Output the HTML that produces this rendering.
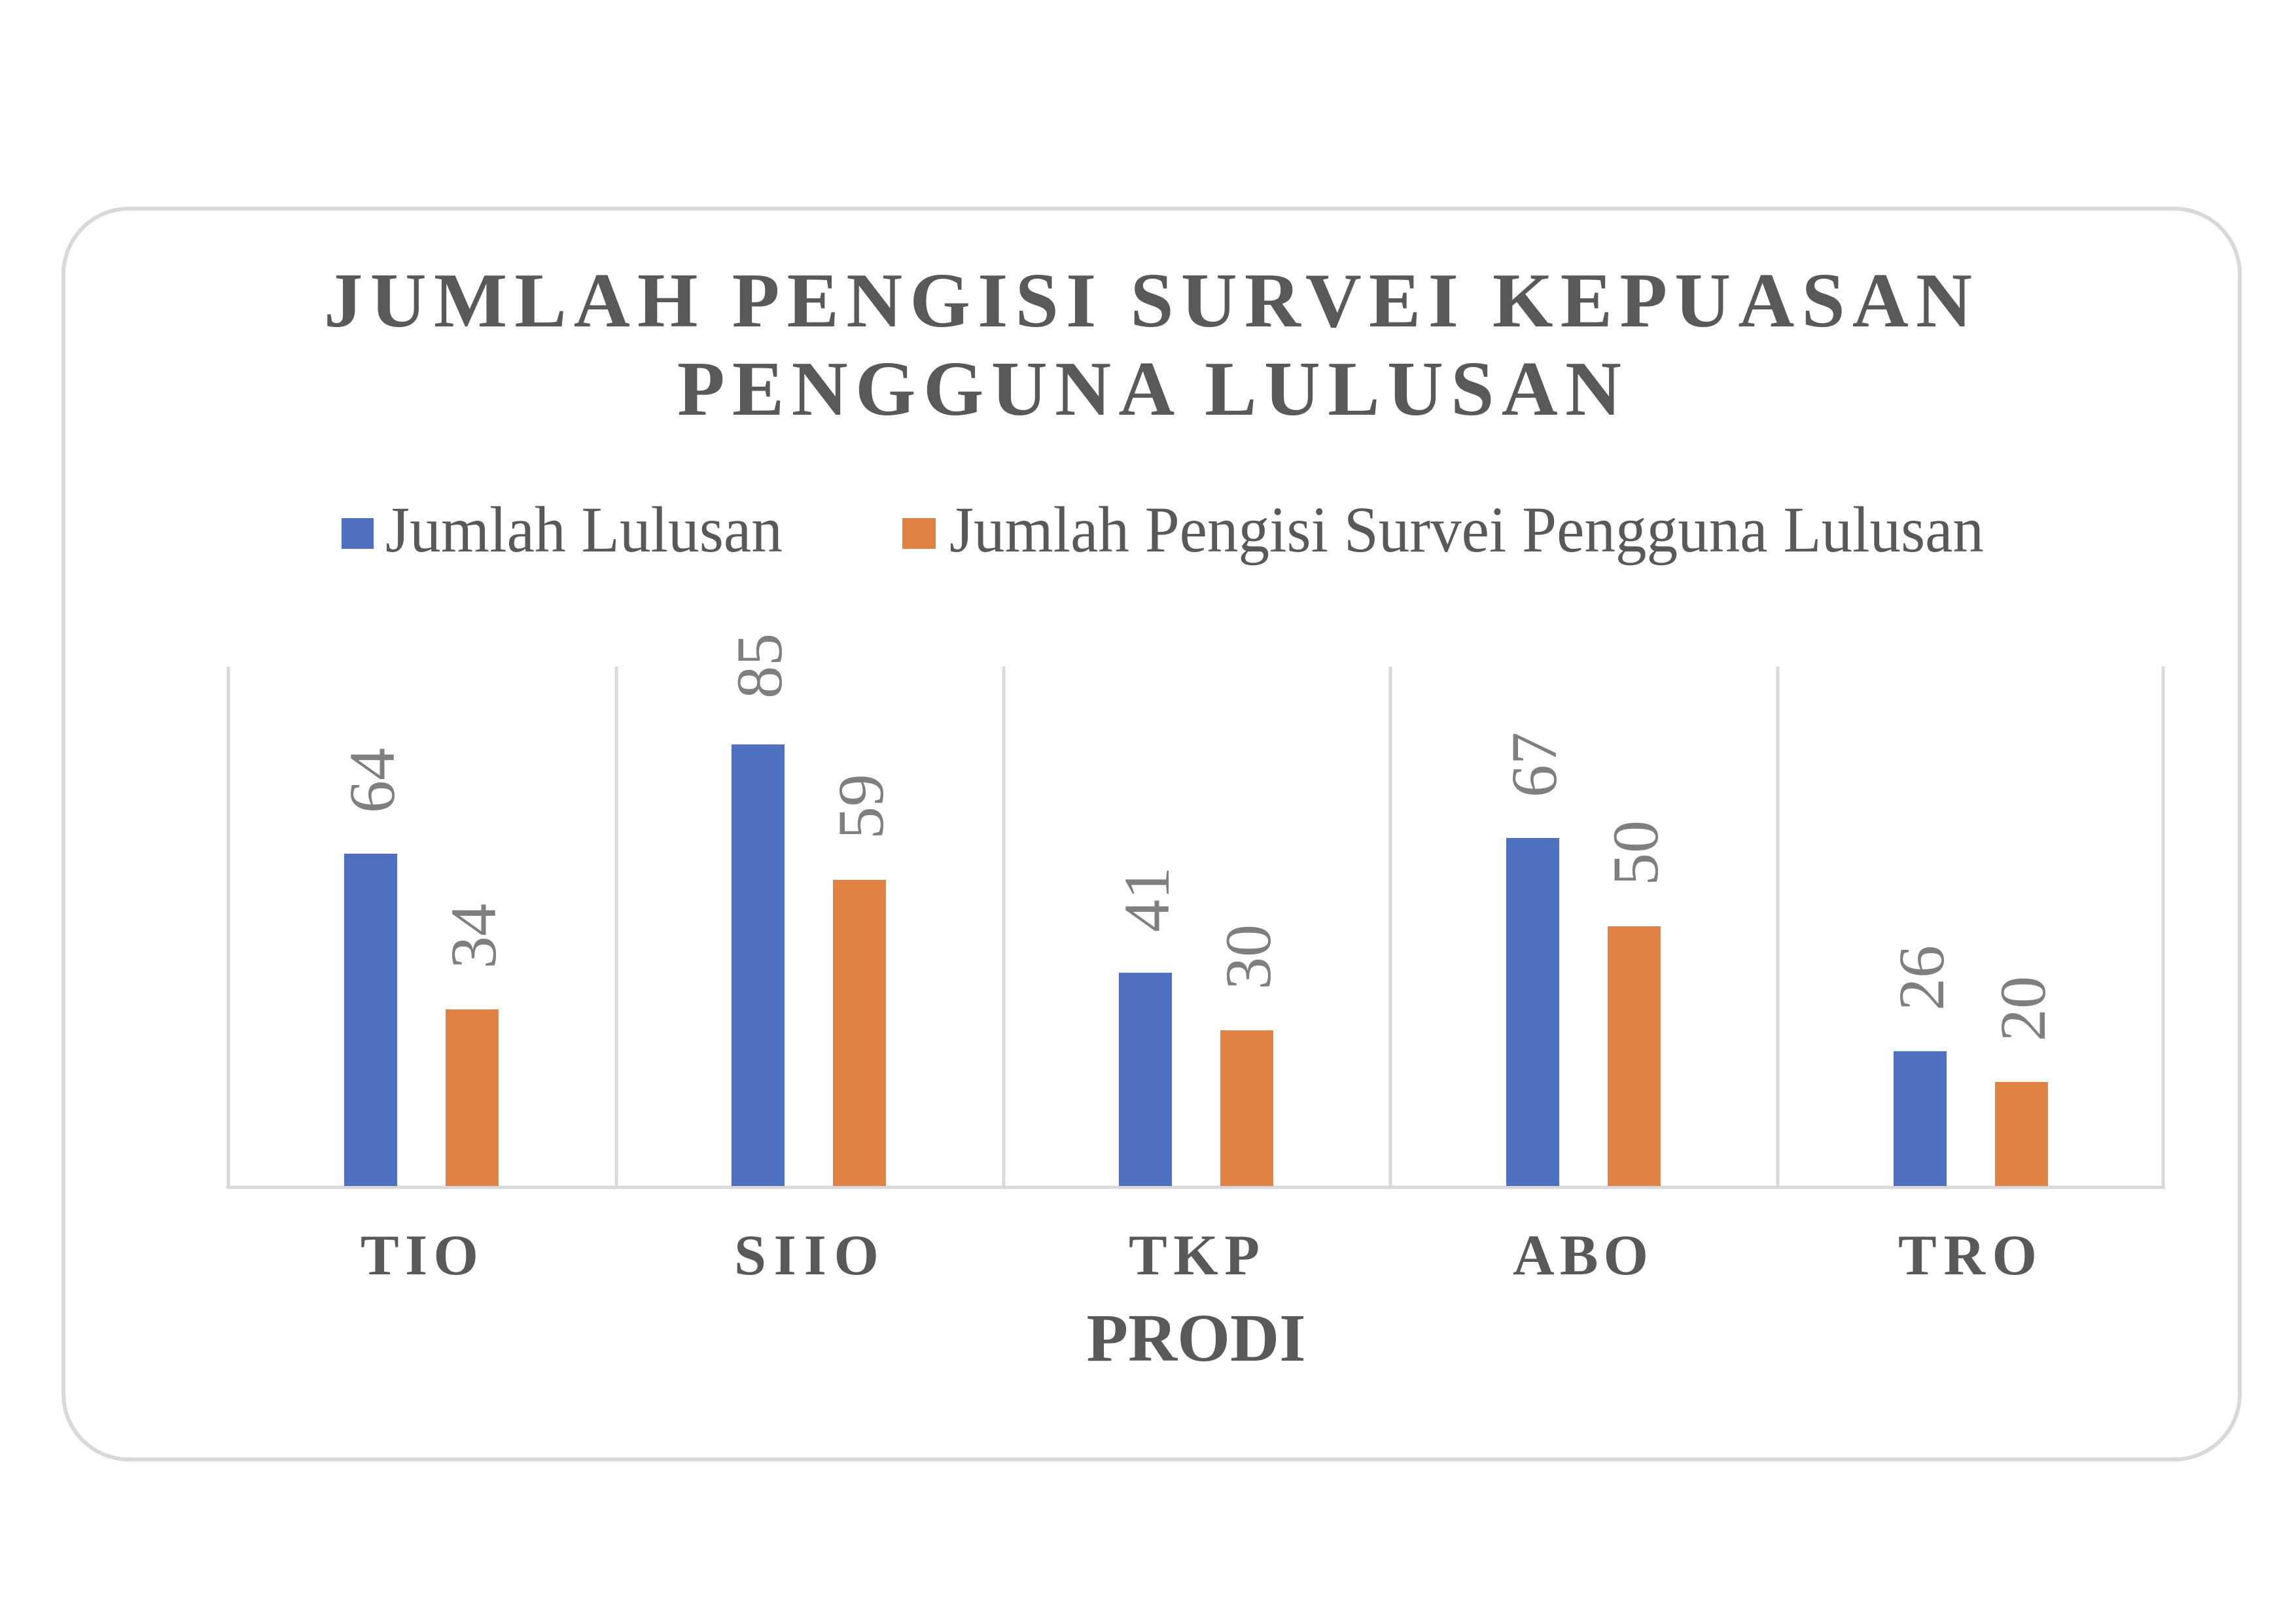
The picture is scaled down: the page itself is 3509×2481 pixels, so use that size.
<!DOCTYPE html>
<html><head><meta charset="utf-8"><style>html,body{margin:0;padding:0;background:#fff}svg{display:block}</style></head>
<body>
<svg width="3509" height="2481" viewBox="0 0 3509 2481" xmlns="http://www.w3.org/2000/svg">
<rect width="3509" height="2481" fill="#fff"/>
<rect x="97" y="319" width="3326" height="1912" rx="100" ry="100" fill="#fff" stroke="#d9d9d9" stroke-width="6"/>
<g font-family="Liberation Serif, serif" font-weight="bold" fill="#595959" font-size="119">
<text x="495" y="499" textLength="2519" lengthAdjust="spacing">JUMLAH PENGISI SURVEI KEPUASAN</text>
<text x="1035" y="634" textLength="1443" lengthAdjust="spacing">PENGGUNA LULUSAN</text>
</g>
<rect x="522" y="792" width="49" height="47" fill="#4e70be"/>
<rect x="1379" y="792" width="51" height="47" fill="#df8244"/>
<g font-family="Liberation Serif, serif" fill="#595959" font-size="100">
<text x="589" y="843" textLength="607" lengthAdjust="spacingAndGlyphs">Jumlah Lulusan</text>
<text x="1451" y="843" textLength="1581" lengthAdjust="spacingAndGlyphs">Jumlah Pengisi Survei Pengguna Lulusan</text>
</g>
<g stroke="#d9d9d9" stroke-width="5">
<line x1="349" y1="1019" x2="349" y2="1813"/>
<line x1="942" y1="1019" x2="942" y2="1813"/>
<line x1="1534" y1="1019" x2="1534" y2="1813"/>
<line x1="2125" y1="1019" x2="2125" y2="1813"/>
<line x1="2717" y1="1019" x2="2717" y2="1813"/>
<line x1="3306" y1="1019" x2="3306" y2="1813"/>
<line x1="346" y1="1815" x2="3309" y2="1815"/>
</g>
<g>
<rect x="526" y="1305" width="81" height="508" fill="#4e70be"/>
<rect x="681" y="1543" width="81" height="270" fill="#df8244"/>
<rect x="1118" y="1138" width="81" height="675" fill="#4e70be"/>
<rect x="1273" y="1345" width="81" height="468" fill="#df8244"/>
<rect x="1710" y="1487" width="81" height="326" fill="#4e70be"/>
<rect x="1865" y="1575" width="81" height="238" fill="#df8244"/>
<rect x="2302" y="1281" width="81" height="532" fill="#4e70be"/>
<rect x="2457" y="1416" width="81" height="397" fill="#df8244"/>
<rect x="2894" y="1607" width="81" height="206" fill="#4e70be"/>
<rect x="3049" y="1654" width="81" height="159" fill="#df8244"/>
</g>
<g font-family="Liberation Serif, serif" fill="#7f7f7f" font-size="100">
<text transform="translate(602,1243) rotate(-90)">64</text>
<text transform="translate(757,1481) rotate(-90)">34</text>
<text transform="translate(1194,1068) rotate(-90)">85</text>
<text transform="translate(1349,1283) rotate(-90)">59</text>
<text transform="translate(1786,1425) rotate(-90)">41</text>
<text transform="translate(1941,1513) rotate(-90)">30</text>
<text transform="translate(2378,1219) rotate(-90)">67</text>
<text transform="translate(2533,1354) rotate(-90)">50</text>
<text transform="translate(2970,1545) rotate(-90)">26</text>
<text transform="translate(3125,1592) rotate(-90)">20</text>
</g>
<g font-family="Liberation Serif, serif" font-weight="bold" fill="#595959" font-size="88">
<text x="551" y="1948" textLength="180" lengthAdjust="spacing">TIO</text>
<text x="1122" y="1948" textLength="221" lengthAdjust="spacing">SIIO</text>
<text x="1725" y="1948" textLength="200" lengthAdjust="spacing">TKP</text>
<text x="2312" y="1948" textLength="207" lengthAdjust="spacing">ABO</text>
<text x="2901" y="1948" textLength="212" lengthAdjust="spacing">TRO</text>
<text x="1828" y="2080" text-anchor="middle" font-size="104">PRODI</text>
</g>
</svg>
</body></html>
